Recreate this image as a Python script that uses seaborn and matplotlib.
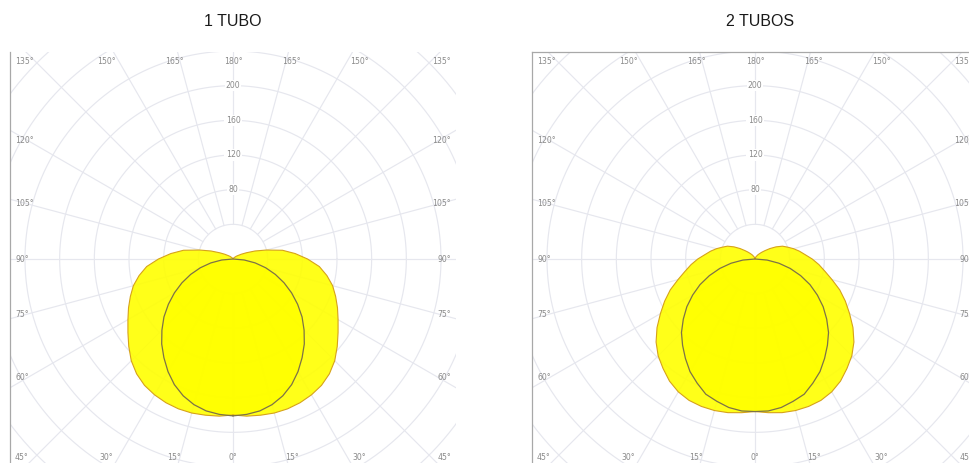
import numpy as np
import matplotlib
matplotlib.use("Agg")
import matplotlib.pyplot as plt
import seaborn as sns

# ---------------- data ----------------
angles = [0, 5, 10, 15, 20, 25, 30, 35, 40, 45, 50, 55, 60, 65, 70, 75, 80, 85, 90,
          95, 100, 105, 110, 115, 120, 125, 130, 135, 140, 145, 150, 155, 160, 165,
          170, 175, 180]

tubo1_c0 = [181, 180, 178, 174, 168, 160, 150, 139, 128, 116, 104, 91, 78, 65, 52,
            39, 26, 13, 0, 0, 0, 0, 0, 0, 0, 0, 0, 0, 0, 0, 0, 0, 0, 0, 0, 0, 0]
tubo1_c90 = [180, 182, 183, 184, 184, 183, 181, 178, 173, 166, 157, 148, 140, 133,
             126, 119, 110, 100, 86, 72, 58, 40, 27, 17, 11, 7, 5, 3, 2, 1, 1, 0, 0,
             0, 0, 0, 0]

tubo2_c0 = [176, 176, 174, 170, 166, 158, 150, 140, 130, 120, 108, 96, 83, 70, 56,
            42, 28, 14, 0, 0, 0, 0, 0, 0, 0, 0, 0, 0, 0, 0, 0, 0, 0, 0, 0, 0, 0]
tubo2_c90 = [176, 178, 180, 181, 181, 180, 177, 172, 165, 158, 149, 138, 126, 115,
             104, 92, 82, 74, 66, 58, 52, 46, 40, 35, 28, 21, 15, 11, 8, 6, 4, 3, 2,
             1, 1, 0, 0]

titles = ["1 TUBO", "2 TUBOS"]
ring_labels = [80, 120, 160, 200]
grid_rings = [40, 80, 120, 160, 200, 240, 280, 320, 360, 400]
top_angles = [150, 165, 180]
bottom_angles = [0, 15, 30]
side_angles = [60, 75, 90, 105, 120]

# ---------------- style ----------------
sns.set_theme(style="white")
plt.rcParams['font.family'] = ['DejaVu Sans']

W_PX, H_PX = 970, 463
fig = plt.figure(figsize=(W_PX / 100, H_PX / 100), dpi=100)

PX = 0.8667              # pixels per candela unit
half_w = 223 / PX
half_h = 207 / PX

GRID_C = '#e6e7ee'
LBL_C = '#8a8a8a'
FILL_C = '#ffff00'
EDGE_WIDE = '#d6a21a'
EDGE_CIRC = '#7d7248'


def polygon(vals):
    th = np.deg2rad(np.asarray(angles, float))
    r = np.asarray(vals, float)
    xr = r * np.sin(th)
    yr = -r * np.cos(th)
    x = np.concatenate([xr, -xr[::-1]])
    y = np.concatenate([yr, yr[::-1]])
    return x, y


def panel(ax, c0, c90, title, cx_px, spines):
    ax.set_xlim(-half_w, half_w)
    ax.set_ylim(-half_h, half_h)
    ax.set_xticks([])
    ax.set_yticks([])
    for s in ['left', 'right', 'top', 'bottom']:
        ax.spines[s].set_visible(s in spines)
        ax.spines[s].set_color('#a8a8a8')
        ax.spines[s].set_linewidth(0.9)
    ax.set_facecolor('white')

    # rings
    t = np.linspace(0, 2 * np.pi, 400)
    for r in grid_rings:
        ax.plot(r * np.cos(t), r * np.sin(t), color=GRID_C, lw=0.85, zorder=1)
    # radial lines every 15 deg starting at r=40
    for a in range(0, 360, 15):
        ar = np.deg2rad(a)
        ax.plot([40 * np.sin(ar), 500 * np.sin(ar)],
                [-40 * np.cos(ar), -500 * np.cos(ar)],
                color=GRID_C, lw=0.85, zorder=1)

    # ring labels on the 180 axis
    for r in ring_labels:
        ax.text(0, r, str(r), ha='center', va='center', fontsize=5.6, color=LBL_C,
                zorder=2, bbox=dict(boxstyle='square,pad=0.15', fc='white', ec='none'))

    # angle labels
    Ht = 252.7
    Wt = 237.7
    ytop = 198 / PX
    xedge = half_w - 5 / PX
    for a in top_angles:
        dx = Ht * np.tan(np.deg2rad(180 - a))
        for sgn in ([1] if a == 180 else [-1, 1]):
            ax.text(sgn * dx, ytop, f"{a}°", ha='center', va='center',
                    fontsize=5.6, color=LBL_C, zorder=2)
    for a in bottom_angles:
        dx = Ht * np.tan(np.deg2rad(a))
        for sgn in ([1] if a == 0 else [-1, 1]):
            ax.text(sgn * dx, -ytop, f"{a}°", ha='center', va='center',
                    fontsize=5.6, color=LBL_C, zorder=2)
    for a in side_angles:
        yy = -Wt * np.tan(np.deg2rad(90 - a))
        ax.text(-xedge, yy, f"{a}°", ha='left', va='center', fontsize=5.6,
                color=LBL_C, zorder=2)
        ax.text(xedge, yy, f"{a}°", ha='right', va='center', fontsize=5.6,
                color=LBL_C, zorder=2)
    for a, yy in [(135, ytop), (45, -ytop)]:
        ax.text(-xedge, yy, f"{a}°", ha='left', va='center', fontsize=5.6,
                color=LBL_C, zorder=2)
        ax.text(xedge, yy, f"{a}°", ha='right', va='center', fontsize=5.6,
                color=LBL_C, zorder=2)

    # curves
    xw, yw = polygon(c90)
    ax.fill(xw, yw, color=FILL_C, alpha=0.9, lw=0, zorder=3)
    sns.lineplot(x=xw, y=yw, sort=False, estimator=None, ax=ax, color=EDGE_WIDE,
                 lw=0.8, zorder=4)
    xc, yc = polygon(c0)
    ax.fill(xc, yc, color=FILL_C, alpha=0.9, lw=0, zorder=3)
    sns.lineplot(x=xc, y=yc, sort=False, estimator=None, ax=ax, color=EDGE_CIRC,
                 lw=0.9, zorder=4)

    fig.text(cx_px / W_PX, 1 - 22 / H_PX, title, ha='center', va='center',
             fontsize=11.5, color='#1a1a1a', family=['Liberation Sans', 'DejaVu Sans'])


box_w = 446 / W_PX
box_h = 414 / H_PX
bottom = (H_PX - 466) / H_PX

ax1 = fig.add_axes([10 / W_PX, bottom, box_w, box_h])
panel(ax1, tubo1_c0, tubo1_c90, titles[0], 233, ['left'])

ax2 = fig.add_axes([532 / W_PX, bottom, box_w, box_h])
panel(ax2, tubo2_c0, tubo2_c90, titles[1], 760, ['left', 'top'])

fig.savefig('out.png', dpi=100)
